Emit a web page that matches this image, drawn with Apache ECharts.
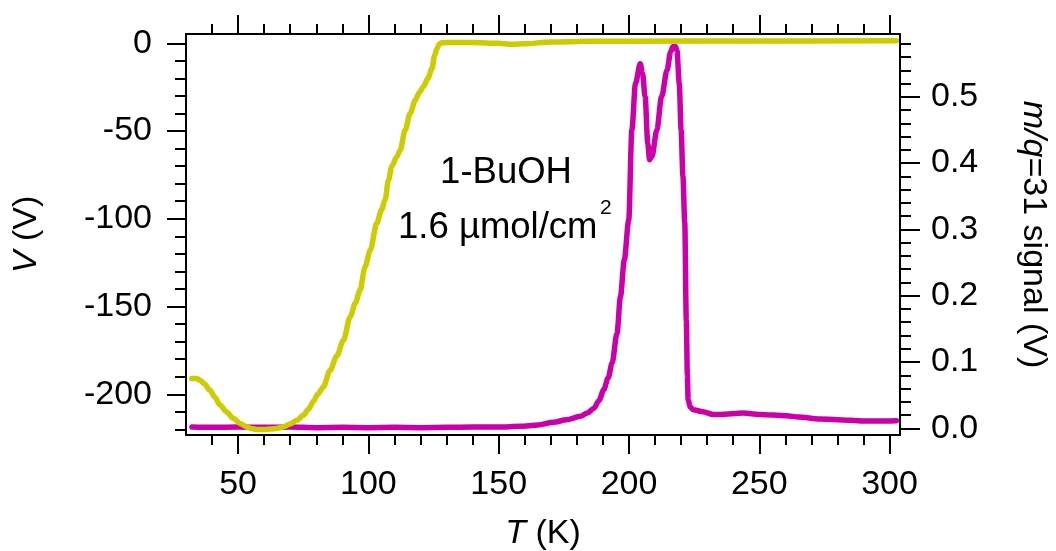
<!DOCTYPE html>
<html>
<head>
<meta charset="utf-8">
<script src="https://cdn.jsdelivr.net/npm/echarts@6/dist/echarts.min.js"></script>
<style>
  html, body { margin: 0; padding: 0; background: #fff; }
  #chart { width: 1056px; height: 551px; }
</style>
</head>
<body>
<div id="chart"></div>
<script>
// Sample bias V (left axis) against temperature
const biasT = [32.2, 34, 35.4, 37, 39.2, 41, 43, 45.5, 48.2, 51, 53.3, 55, 57.1, 60, 62.5, 64.8, 67.5, 69.9,
  72.5, 75, 77, 78.9, 80.5, 82.7, 85.3, 87.9, 90.4, 93, 95, 96.8, 98.7, 100.7, 103.2, 105, 106.4, 107.7,
  109, 110.9, 112.2, 114.1, 116, 118, 119.5, 121.1, 122.8, 124.4, 125.4, 126.3, 127.2, 128.2, 130, 140,
  150, 155, 160, 170, 185, 200, 250, 302.6];
const biasV = [-191, -191, -192, -194, -197.7, -201.5, -206, -210, -213.8, -216.8, -218.6, -219.5, -220, -220,
  -219.8, -219.5, -218.5, -217, -214.8, -212, -208.5, -204, -200, -195.8, -186.3, -178, -169.2, -155.9, -148,
  -140.6, -127.4, -117.9, -102.6, -95, -89.3, -78, -70, -64.6, -60.8, -49.4, -40, -32.3, -28, -24.7, -20,
  -14.3, -7, -2.9, -0.4, 0.3, 0.4, 0.4, 0.0, -0.6, -0.3, 0.8, 1.1, 1.2, 1.3, 1.4];

// m/q = 31 mass signal (right axis)
const msT = [32.3, 40, 50, 60, 70, 80, 90, 100, 110, 120, 130, 140, 150, 158.3, 165, 171.1, 176, 181.3,
  184, 186.5, 188.5, 190.3, 192, 193.5, 195.4, 196.7, 198.2, 199.9, 201.1, 202.5, 204.3, 205.2, 206.2,
  207.2, 207.9, 208.8, 210.7, 212.5, 214.6, 216, 216.9, 217.8, 218.4, 219.3, 220, 220.7, 221.4, 222,
  222.4, 222.7, 223.5, 224.6, 228.4, 232.3, 235, 243.8, 250, 260.4, 265, 273.2, 280, 289.8, 296, 302.6];
const msV = [0.002, 0.0015, 0.002, 0.0015, 0.002, 0.001, 0.0015, 0.001, 0.0015, 0.001, 0.0015, 0.002,
  0.002, 0.003, 0.005, 0.009, 0.013, 0.018, 0.023, 0.030, 0.042, 0.058, 0.076, 0.098, 0.143, 0.198, 0.254,
  0.314, 0.45, 0.52, 0.55, 0.535, 0.50, 0.43, 0.405, 0.41, 0.45, 0.50, 0.54, 0.568, 0.576, 0.576, 0.57,
  0.52, 0.45, 0.38, 0.31, 0.163, 0.08, 0.043, 0.032, 0.028, 0.025, 0.021, 0.021, 0.023, 0.021, 0.019,
  0.017, 0.014, 0.013, 0.011, 0.011, 0.0115];

// Tick positions
const tMajor = [50, 100, 150, 200, 250, 300];
const tMinor = [40, 50, 60, 70, 80, 90, 100, 110, 120, 130, 140, 150, 160, 170, 180, 190, 200, 210, 220,
  230, 240, 250, 260, 270, 280, 290, 300];
const vMajor = [-200, -150, -100, -50, 0];
const vMinor = [-220, -210, -200, -190, -180, -170, -160, -150, -140, -130, -120, -110, -100, -90, -80,
  -70, -60, -50, -40, -30, -20, -10, 0];
const sMajor = [0, 0.1, 0.2, 0.3, 0.4, 0.5];
const sMinor = [0, 0.02, 0.04, 0.06, 0.08, 0.1, 0.12, 0.14, 0.16, 0.18, 0.2, 0.22, 0.24, 0.26, 0.28, 0.3,
  0.32, 0.34, 0.36, 0.38, 0.4, 0.42, 0.44, 0.46, 0.48, 0.5, 0.52, 0.54, 0.56, 0.58];

const T_RANGE = [30, 304];
const V_RANGE = [-223.2, 5.3];
const S_RANGE = [-0.0101, 0.5947];

const FONT = 'Liberation Sans, Arial, Helvetica, sans-serif';
const lineCol = '#000';
const yellow = '#cccc00';
const magenta = '#cc00aa';

function pairs(xs, ys) { return xs.map((x, i) => [x, ys[i]]); }

function axisBase(extra) {
  return Object.assign({
    type: 'value',
    axisLine: { show: true, onZero: false, lineStyle: { color: lineCol, width: 2 } },
    splitLine: { show: false },
    axisLabel: { show: false },
    axisTick: { show: true, lineStyle: { color: lineCol, width: 2 } }
  }, extra);
}

function xAxis(position, major, withLabels) {
  const a = axisBase({ position: position, min: T_RANGE[0], max: T_RANGE[1] });
  a.axisTick.customValues = major ? tMajor : tMinor;
  a.axisTick.length = major ? 19 : 10;
  if (withLabels) {
    a.axisLabel = { show: true, customValues: tMajor, margin: 33, color: '#000', fontSize: 34, fontFamily: FONT };
    a.name = '{i|T} (K)';
    a.nameLocation = 'middle';
    a.nameGap = 82;
    a.nameTextStyle = { fontSize: 34, fontFamily: FONT, color: '#000',
      rich: { i: { fontStyle: 'italic', fontSize: 34, fontFamily: FONT, color: '#000' } } };
  }
  return a;
}

const chart = echarts.init(document.getElementById('chart'), null, { renderer: 'canvas' });

const leftMajor = axisBase({ position: 'left', min: V_RANGE[0], max: V_RANGE[1],
  name: '{i|V} (V)', nameLocation: 'middle', nameGap: 142,
  nameTextStyle: { fontSize: 34, fontFamily: FONT, color: '#000',
    rich: { i: { fontStyle: 'italic', fontSize: 34, fontFamily: FONT, color: '#000' } } } });
leftMajor.axisTick.customValues = vMajor;
leftMajor.axisTick.length = 19;
leftMajor.axisLabel = { show: true, customValues: vMajor, margin: 34, color: '#000', fontSize: 34, fontFamily: FONT };

const leftMinor = axisBase({ position: 'left', min: V_RANGE[0], max: V_RANGE[1] });
leftMinor.axisTick.customValues = vMinor;
leftMinor.axisTick.length = 11;

const rightMajor = axisBase({ position: 'right', min: S_RANGE[0], max: S_RANGE[1],
  name: '{i|m/q}=31 signal (V)', nameLocation: 'middle', nameGap: 116, nameRotate: -90,
  nameTextStyle: { fontSize: 34, fontFamily: FONT, color: '#000',
    rich: { i: { fontStyle: 'italic', fontSize: 34, fontFamily: FONT, color: '#000' } } } });
rightMajor.axisTick.customValues = sMajor;
rightMajor.axisTick.length = 20;
rightMajor.axisLabel = { show: true, customValues: sMajor, margin: 31, color: '#000', fontSize: 34,
  fontFamily: FONT, formatter: v => v.toFixed(1) };

const rightMinor = axisBase({ position: 'right', min: S_RANGE[0], max: S_RANGE[1] });
rightMinor.axisTick.customValues = sMinor;
rightMinor.axisTick.length = 11;

chart.setOption({
  animation: false,
  backgroundColor: '#fff',
  grid: { left: 186, right: 156, top: 34, bottom: 116, containLabel: false, outerBoundsMode: 'none' },
  xAxis: [
    xAxis('bottom', true, true),
    xAxis('bottom', false, false),
    xAxis('top', true, false),
    xAxis('top', false, false)
  ],
  yAxis: [leftMajor, leftMinor, rightMajor, rightMinor],
  series: [
    {
      name: 'm/q=31', type: 'line', xAxisIndex: 0, yAxisIndex: 2,
      data: pairs(msT, msV), showSymbol: false, smooth: 0.3, smoothMonotone: 'x',
      lineStyle: { color: magenta, width: 5.5, cap: 'round', join: 'round' }, z: 2
    },
    {
      name: 'V', type: 'line', xAxisIndex: 0, yAxisIndex: 0,
      data: pairs(biasT, biasV), showSymbol: false, smooth: 0.3, smoothMonotone: 'x',
      lineStyle: { color: yellow, width: 5.5, cap: 'round', join: 'round' }, z: 3
    }
  ],
  graphic: [
    { type: 'text', x: 506, y: 173, z: 10,
      style: { text: '1-BuOH', fill: '#000', font: '36.5px ' + FONT, textAlign: 'center', textVerticalAlign: 'middle' } },
    { type: 'text', x: 398, y: 228, z: 10,
      style: { text: '1.6 µmol/cm', fill: '#000', font: '36.5px ' + FONT, textAlign: 'left', textVerticalAlign: 'middle' } },
    { type: 'text', x: 600, y: 208, z: 10,
      style: { text: '2', fill: '#000', font: '21px ' + FONT, textAlign: 'left', textVerticalAlign: 'middle' } }
  ]
});
</script>
</body>
</html>
